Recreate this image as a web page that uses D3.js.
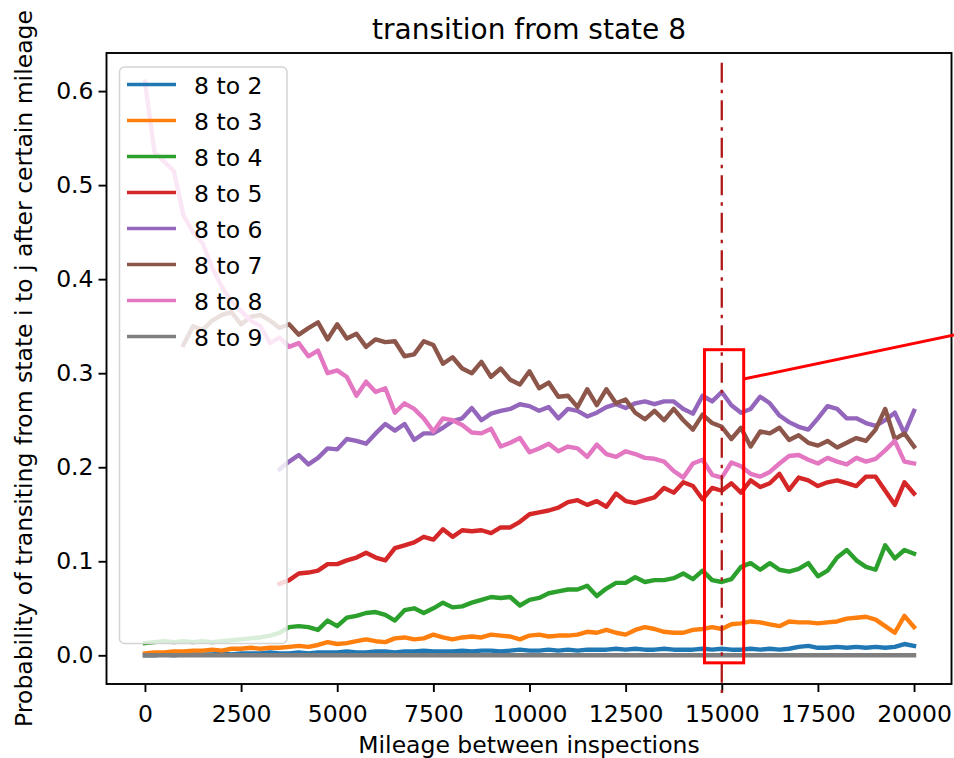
<!DOCTYPE html>
<html><head><meta charset="utf-8">
<script src="https://cdn.jsdelivr.net/npm/d3@7"></script>
<style>body{margin:0;background:#fff} svg{display:block} text{font-family:"DejaVu Sans",sans-serif;fill:#000}</style>
</head><body><svg id="c" width="954" height="758"></svg>
<script>
// ---------- data ----------
const mileage = d3.range(0, 20001, 250); // 81 sample points
const seriesLabels = ["8 to 2","8 to 3","8 to 4","8 to 5","8 to 6","8 to 7","8 to 8","8 to 9"];
const s82 = [0.000,0.000,0.001,0.000,0.001,0.001,0.001,0.001,0.002,
 0.001,0.002,0.002,0.002,0.003,0.002,0.002,0.003,
 0.002,0.003,0.003,0.003,0.004,0.003,0.003,0.004,
 0.004,0.003,0.004,0.004,0.005,0.004,0.004,0.004,
 0.005,0.004,0.005,0.005,0.004,0.005,0.006,0.005,
 0.005,0.006,0.005,0.006,0.005,0.006,0.006,0.006,
 0.007,0.006,0.007,0.006,0.006,0.007,0.006,0.006,
 0.006,0.007,0.006,0.007,0.006,0.006,0.007,0.006,
 0.007,0.006,0.007,0.009,0.010,0.008,0.008,0.009,
 0.008,0.009,0.008,0.009,0.008,0.009,0.012,0.010];
const s83 = [0.002,0.003,0.003,0.004,0.004,0.005,0.005,0.006,0.005,
 0.007,0.007,0.008,0.007,0.008,0.008,0.009,0.010,
 0.009,0.011,0.014,0.012,0.013,0.015,0.017,0.015,
 0.014,0.018,0.019,0.017,0.018,0.022,0.019,0.017,
 0.019,0.020,0.019,0.022,0.021,0.020,0.017,0.021,
 0.022,0.020,0.021,0.021,0.022,0.025,0.024,0.027,
 0.024,0.022,0.027,0.030,0.028,0.025,0.024,0.024,
 0.027,0.028,0.030,0.028,0.033,0.034,0.036,0.035,
 0.033,0.031,0.036,0.035,0.035,0.034,0.035,0.036,
 0.039,0.040,0.041,0.038,0.031,0.024,0.042,0.030];
const s84 = [0.013,0.014,0.015,0.014,0.015,0.014,0.015,0.014,0.015,
 0.016,0.017,0.018,0.019,0.021,0.024,0.030,0.031,
 0.030,0.027,0.037,0.031,0.040,0.042,0.045,0.046,
 0.043,0.037,0.048,0.050,0.045,0.050,0.056,0.051,
 0.052,0.056,0.059,0.062,0.061,0.062,0.053,0.059,
 0.061,0.066,0.068,0.070,0.070,0.074,0.063,0.071,
 0.077,0.077,0.083,0.078,0.080,0.080,0.082,0.087,
 0.081,0.090,0.080,0.078,0.081,0.094,0.098,0.091,
 0.098,0.091,0.089,0.092,0.098,0.084,0.090,0.104,
 0.112,0.101,0.094,0.091,0.117,0.103,0.112,0.108];
const s85 = [null,null,null,null,null,null,null,null,null,
 null,null,null,null,null,0.076,0.080,0.087,
 0.088,0.090,0.097,0.097,0.101,0.104,0.109,0.104,
 0.101,0.114,0.117,0.120,0.126,0.123,0.134,0.126,
 0.133,0.132,0.133,0.130,0.136,0.136,0.142,0.150,
 0.152,0.154,0.157,0.163,0.165,0.160,0.164,0.158,
 0.172,0.164,0.162,0.165,0.168,0.178,0.173,0.184,
 0.180,0.166,0.178,0.175,0.183,0.173,0.186,0.179,
 0.183,0.193,0.176,0.189,0.186,0.180,0.184,0.186,
 0.183,0.180,0.190,0.190,0.175,0.160,0.184,0.172];
const s86 = [null,null,null,null,null,null,null,null,null,
 null,null,null,null,null,0.198,0.206,0.213,
 0.203,0.210,0.220,0.219,0.230,0.228,0.225,0.236,
 0.246,0.239,0.246,0.229,0.236,0.236,0.242,0.249,
 0.252,0.263,0.250,0.257,0.260,0.262,0.267,0.265,
 0.260,0.264,0.252,0.262,0.260,0.254,0.258,0.264,
 0.267,0.263,0.268,0.270,0.267,0.270,0.270,0.262,
 0.257,0.276,0.270,0.280,0.266,0.258,0.262,0.275,
 0.268,0.255,0.248,0.243,0.240,0.252,0.265,0.262,
 0.252,0.252,0.247,0.244,0.250,0.258,0.236,0.260];
const s87 = [null,null,null,null,0.330,0.350,0.346,0.356,0.362,
 0.365,0.352,0.360,0.362,0.356,0.348,0.352,0.341,
 0.348,0.354,0.336,0.352,0.337,0.342,0.328,0.336,
 0.333,0.334,0.318,0.320,0.334,0.330,0.310,0.317,
 0.305,0.300,0.312,0.296,0.305,0.293,0.288,0.302,
 0.284,0.290,0.275,0.276,0.264,0.283,0.266,0.283,
 0.268,0.272,0.258,0.251,0.260,0.250,0.262,0.250,
 0.240,0.256,0.247,0.243,0.230,0.242,0.222,0.238,
 0.236,0.242,0.229,0.234,0.226,0.223,0.228,0.221,
 0.226,0.231,0.228,0.240,0.262,0.230,0.236,0.222];
const s88 = [0.610,0.535,0.525,0.515,0.468,0.450,0.438,0.412,0.392,
 0.376,0.366,0.356,0.350,0.332,0.338,0.328,0.332,
 0.318,0.324,0.300,0.303,0.296,0.276,0.291,0.280,
 0.284,0.258,0.268,0.262,0.252,0.238,0.252,0.250,
 0.245,0.237,0.236,0.241,0.222,0.226,0.231,0.216,
 0.220,0.225,0.217,0.222,0.220,0.211,0.224,0.214,
 0.211,0.217,0.214,0.210,0.209,0.206,0.196,0.189,
 0.204,0.208,0.192,0.189,0.205,0.201,0.193,0.190,
 0.195,0.204,0.212,0.213,0.208,0.204,0.210,0.206,
 0.203,0.210,0.206,0.209,0.218,0.228,0.206,0.204];
const s89 = [0,0,0,0,0,0,0,0,0,
 0,0,0,0,0,0,0,0, 0,0,0,0,0,0,0,0, 0,0,0,0,0,0,0,0,
 0,0,0,0,0,0,0,0, 0,0,0,0,0,0,0,0, 0,0,0,0,0,0,0,0,
 0,0,0,0,0,0,0,0, 0,0,0,0,0,0,0,0, 0,0,0,0,0,0,0,0];
const allSeries = [s82,s83,s84,s85,s86,s87,s88,s89];
const xTicks = [0,2500,5000,7500,10000,12500,15000,17500,20000];
const yTicks = [0.0,0.1,0.2,0.3,0.4,0.5,0.6];
const markMileage = 15000;        // dash-dot marker
const markSpan = [-0.04, 0.63];
const boxMileage = [14550, 15570]; // highlighted window
const boxProb = [-0.008, 0.325];

// ---------- style ----------
const colors = ["#1f77b4","#ff7f0e","#2ca02c","#d62728","#9467bd","#8c564b","#e377c2","#7f7f7f"];
const W = 954, H = 758;
const m = {left:106.5, right:951.5, top:53, bottom:684};
const svg = d3.select("#c");
const x = d3.scaleLinear().domain([-1000, 21000]).range([m.left, 952.5]);
const y = d3.scaleLinear().domain([-0.0305, 0.6405]).range([m.bottom, m.top]);

// lines
const line = d3.line().defined(d=>d!==null).x((d,i)=>x(mileage[i])).y(d=>y(d));
const gLines = svg.append("g");
allSeries.forEach((s,i)=>{
  gLines.append("path").datum(s).attr("d", line)
    .attr("fill","none").attr("stroke",colors[i]).attr("stroke-width",4.4)
    .attr("stroke-linejoin","round").attr("stroke-linecap","square");
});

// axes
const fs = 23.5;
const xAxis = d3.axisBottom(x).tickValues(xTicks).tickFormat(d3.format("d")).tickSize(8).tickPadding(13).tickSizeOuter(0);
const gx = svg.append("g").attr("transform",`translate(0,${m.bottom})`).call(xAxis);
const yAxis = d3.axisLeft(y).tickValues(yTicks).tickFormat(d3.format(".1f")).tickSize(8).tickPadding(5).tickSizeOuter(0);
const gy = svg.append("g").attr("transform",`translate(${m.left},0)`).call(yAxis);
[gx,gy].forEach(g=>{
  g.select(".domain").remove();
  g.selectAll(".tick line").attr("stroke","#000").attr("stroke-width",1.9);
  g.selectAll(".tick text").attr("font-size",fs).attr("font-family","DejaVu Sans").attr("fill","#000");
});

// frame
svg.append("rect").attr("x",m.left).attr("y",m.top).attr("width",m.right-m.left).attr("height",m.bottom-m.top)
  .attr("fill","none").attr("stroke","#000").attr("stroke-width",1.9);

// marker line
svg.append("line").attr("x1",x(markMileage)).attr("x2",x(markMileage))
  .attr("y1",y(markSpan[1])).attr("y2",y(markSpan[0]))
  .attr("stroke","#b01818").attr("stroke-width",2.3).attr("stroke-dasharray","20,7,3.5,7");

// legend
const lg = svg.append("g");
lg.append("rect").attr("x",119.5).attr("y",67).attr("width",167.5).attr("height",576.5).attr("rx",5)
  .attr("fill","#fff").attr("fill-opacity",0.82).attr("stroke","#d4d4d4").attr("stroke-width",1.5);
seriesLabels.forEach((lab,i)=>{
  const yy = 84.5 + 36*i;
  lg.append("line").attr("x1",127).attr("x2",176).attr("y1",yy).attr("y2",yy)
    .attr("stroke",colors[i]).attr("stroke-width",3.6);
  lg.append("text").attr("x",194).attr("y",yy+9.5).attr("font-size",fs).text(lab);
});

// highlight box and connector
const bx0 = x(boxMileage[0]), bx1 = x(boxMileage[1]), by0 = y(boxProb[1]), by1 = y(boxProb[0]);
svg.append("rect").attr("x",bx0).attr("y",by0).attr("width",bx1-bx0).attr("height",by1-by0)
  .attr("fill","none").attr("stroke","#ff0000").attr("stroke-width",3);
svg.append("line").attr("x1",bx1).attr("y1",379).attr("x2",W+10).attr("y2",379-(W+10-bx1)*44/210)
  .attr("stroke","#ff0000").attr("stroke-width",3);

// titles
svg.append("text").attr("x",(m.left+m.right)/2).attr("y",39).attr("text-anchor","middle")
  .attr("font-size",28).text("transition from state 8");
svg.append("text").attr("x",(m.left+m.right)/2).attr("y",753).attr("text-anchor","middle")
  .attr("font-size",fs).text("Mileage between inspections");
svg.append("text").attr("transform",`translate(32,${(m.top+m.bottom)/2}) rotate(-90)`).attr("text-anchor","middle")
  .attr("font-size",fs).text("Probability of transiting from state i to j after certain mileage");
</script></body></html>
